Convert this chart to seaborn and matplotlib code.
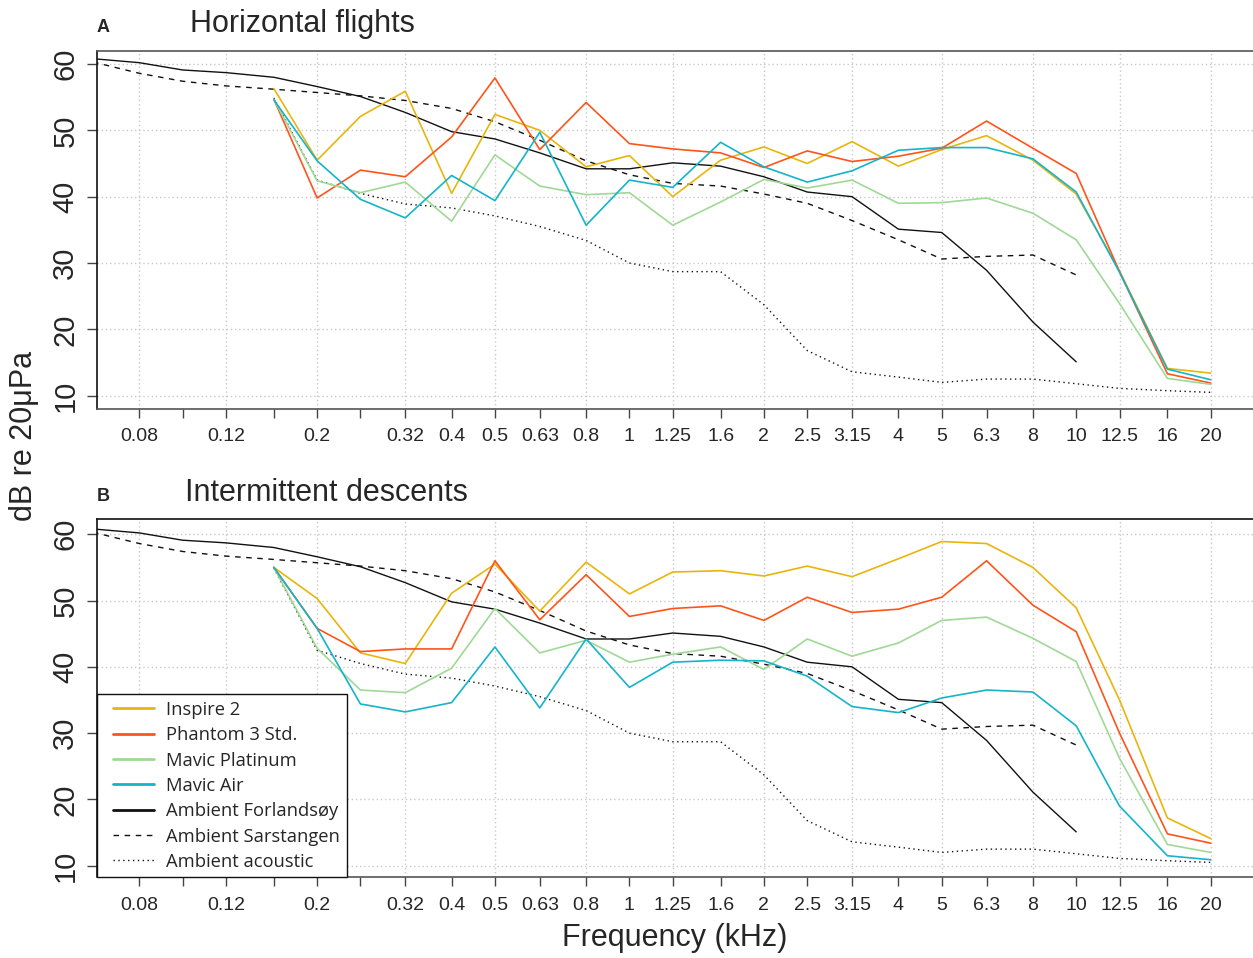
import numpy as np
import pandas as pd
import matplotlib
matplotlib.use("Agg")
import matplotlib.pyplot as plt
from matplotlib.lines import Line2D
from matplotlib.legend_handler import HandlerLine2D
import seaborn as sns

# ---------------- data ----------------
bands = [0.063, 0.08, 0.1, 0.125, 0.16, 0.2, 0.25, 0.315, 0.4, 0.5, 0.63, 0.8, 1,
         1.25, 1.6, 2, 2.5, 3.15, 4, 5, 6.3, 8, 10, 12.5, 16, 20]
tick_labels = ["0.08", "", "0.12", "", "0.2", "", "0.32", "0.4", "0.5", "0.63", "0.8",
               "1", "1.25", "1.6", "2", "2.5", "3.15", "4", "5", "6.3", "8", "10",
               "12.5", "16", "20"]

# ambient (0.063 .. 10 kHz)
amb_forlandsoy = [60.8, 60.2, 59.1, 58.7, 58.0, 56.6, 55.1, 52.7, 49.8, 48.7, 46.6, 44.2,
                  44.2, 45.1, 44.6, 43.0, 40.7, 40.0, 35.1, 34.6, 28.9, 21.1, 15.1]
amb_sarstangen = [60.3, 58.6, 57.4, 56.7, 56.2, 55.7, 55.2, 54.5, 53.3, 51.3, 48.5, 45.4,
                  43.3, 42.0, 41.6, 40.4, 39.0, 36.4, 33.5, 30.6, 31.0, 31.2, 28.2]
# ambient acoustic (0.16 .. 20 kHz)
amb_acoustic = [54.9, 42.5, 40.5, 38.9, 38.3, 37.1, 35.5, 33.4, 30.0, 28.7, 28.7, 23.7,
                16.8, 13.6, 12.8, 12.0, 12.5, 12.5, 11.8, 11.1, 10.75, 10.5]

# drones (0.16 .. 20 kHz) - panel A horizontal flights
a_inspire = [56.3, 45.5, 52.1, 55.9, 40.5, 52.4, 50.0, 44.5, 46.2, 40.0, 45.5, 47.5, 45.0,
             48.3, 44.6, 47.1, 49.2, 45.5, 40.4, 28.8, 14.1, 13.4]
a_phantom = [54.7, 39.8, 44.0, 43.0, 49.0, 57.9, 47.1, 54.2, 48.0, 47.2, 46.6, 44.4, 46.9,
             45.3, 46.1, 47.3, 51.4, 47.3, 43.5, 28.7, 13.3, 11.9]
a_platinum = [54.7, 42.4, 40.6, 42.2, 36.3, 46.3, 41.6, 40.3, 40.6, 35.7, 39.2, 42.6, 41.3,
              42.5, 39.0, 39.1, 39.8, 37.5, 33.5, 23.9, 12.6, 11.7]
a_air = [54.6, 45.4, 39.6, 36.8, 43.2, 39.4, 49.7, 35.7, 42.5, 41.4, 48.2, 44.5, 42.2,
         43.9, 47.0, 47.4, 47.4, 45.7, 40.7, 28.6, 14.0, 12.4]

# drones (0.16 .. 20 kHz) - panel B intermittent descents
b_inspire = [55.0, 50.3, 42.1, 40.5, 51.1, 55.5, 48.4, 55.8, 51.0, 54.3, 54.5, 53.7, 55.2,
             53.6, 56.3, 58.9, 58.6, 55.0, 48.9, 35.0, 17.2, 14.1]
b_phantom = [55.0, 45.8, 42.3, 42.7, 42.7, 56.0, 47.1, 53.9, 47.6, 48.8, 49.2, 47.0, 50.5,
             48.2, 48.7, 50.5, 56.0, 49.3, 45.3, 30.0, 14.8, 13.4]
b_platinum = [55.0, 42.8, 36.5, 36.1, 39.8, 48.8, 42.1, 44.0, 40.7, 41.9, 43.0, 39.6, 44.2,
              41.6, 43.6, 47.0, 47.5, 44.3, 40.8, 26.2, 13.2, 12.0]
b_air = [55.0, 45.8, 34.4, 33.2, 34.6, 43.0, 33.8, 44.2, 36.9, 40.7, 41.0, 40.9, 38.6,
         34.0, 33.1, 35.3, 36.5, 36.2, 31.1, 19.0, 11.5, 10.9]

series_names = ["Inspire 2", "Phantom 3 Std.", "Mavic Platinum", "Mavic Air",
                "Ambient Forlandsøy", "Ambient Sarstangen", "Ambient acoustic"]
colors = ["#E8B50C", "#FF5419", "#9FD995", "#14B4C9", "#111111", "#111111", "#111111"]
styles = ["-", "-", "-", "-", "-", (0, (4, 4)), (0, (1, 2.5))]
widths = [1.2, 1.2, 1.2, 1.2, 1.0, 1.0, 1.0]

# ---------------- style ----------------
sns.set_style("white")
plt.rcParams["font.family"] = ["Liberation Sans", "DejaVu Sans"]

fig = plt.figure(figsize=(12.53, 9.58), dpi=100)
W, H = 1253.0, 958.0
axA = fig.add_axes([96.7 / W, 1 - 409 / H, 1 - 96.7 / W, (409 - 51) / H])
axB = fig.add_axes([96.7 / W, 1 - 877.3 / H, 1 - 96.7 / W, (877.3 - 519) / H])

amb_bands = bands[:23]
dr_bands = bands[4:]


def draw(ax, drones, ylim):
    data = drones + [amb_forlandsoy, amb_sarstangen, amb_acoustic]
    xs = [dr_bands] * 4 + [amb_bands, amb_bands, dr_bands]
    order = [4, 5, 6, 0, 1, 2, 3]
    for i in order:
        sns.lineplot(x=xs[i], y=data[i], ax=ax, color=colors[i], linestyle=styles[i],
                     linewidth=widths[i], legend=False,
                     sort=False, estimator=None, zorder=3)
    ax.set_xscale("log")
    ax.set_xlim(0.06422, 24.87)
    ax.set_ylim(*ylim)
    # grids
    for f in bands[1::2]:
        ax.axvline(f, color="#c8c8c8", lw=1.0, ls=(0, (1, 2)), zorder=1)
    for yv in range(10, 61, 10):
        ax.axhline(yv, color="#c8c8c8", lw=1.0, ls=(0, (1, 2)), zorder=1)
    ax.set_xticks(bands[1:])
    ax.set_xticklabels(tick_labels)
    ax.minorticks_off()
    ax.set_yticks(range(10, 61, 10))
    ax.set_yticklabels([str(v) for v in range(10, 61, 10)], rotation=90, va="center")
    ax.tick_params(axis="x", direction="out", length=6.5, width=1.0, color="#444444",
                   labelsize=14, pad=7.5, bottom=True)
    ax.tick_params(axis="y", direction="out", length=7, width=1.0, color="#444444",
                   labelsize=21, pad=5.5, left=True)
    ax.spines["right"].set_visible(False)
    for s in ["top", "bottom"]:
        ax.spines[s].set_color("#555555")
        ax.spines[s].set_linewidth(1.2)
    ax.spines["left"].set_color("#111111")
    ax.spines["left"].set_linewidth(1.2)
    ax.set_xlabel("")
    ax.set_ylabel("")
    ax.set_facecolor("white")


draw(axA, [a_inspire, a_phantom, a_platinum, a_air], (7.99, 61.96))
draw(axB, [b_inspire, b_phantom, b_platinum, b_air], (8.25, 62.3))
axB.spines["top"].set_color("#111111")
axB.spines["left"].set_color("#111111")

# legend
leg_handles = [Line2D([], [], color=colors[i], ls=styles[i],
                      lw=(2.0 if i < 5 else 1.0)) for i in range(7)]
leg = axB.legend(leg_handles, series_names, loc="lower left", borderaxespad=0,
                 frameon=True, fancybox=False, framealpha=1, edgecolor="#111111",
                 prop={"family": ["Open Sans", "DejaVu Sans"], "size": 13.2},
                 handlelength=2.75, handletextpad=0.7, labelspacing=0.4,
                 borderpad=0.35,
                 handler_map={Line2D: HandlerLine2D(xpad=0.55)})
leg.get_frame().set_linewidth(1.0)
leg.set_zorder(10)

# texts
fig.text(97 / W, 1 - 32.3 / H, "A", fontsize=13, fontweight="bold", ha="left", va="baseline")
fig.text(190 / W, 1 - 32.3 / H, "Horizontal flights", fontsize=22, ha="left", va="baseline")
fig.text(97 / W, 1 - 500.7 / H, "B", fontsize=13, fontweight="bold", ha="left", va="baseline")
fig.text(185 / W, 1 - 500.7 / H, "Intermittent descents", fontsize=22, ha="left", va="baseline")
fig.text(24 / W, 1 - 436 / H, "dB re 20μPa", fontsize=22, rotation=90, ha="center", va="center")
fig.text(675 / W, 1 - 938 / H, "Frequency (kHz)", fontsize=22, ha="center", va="center")

fig.savefig("out.png", dpi=100, facecolor="white")
